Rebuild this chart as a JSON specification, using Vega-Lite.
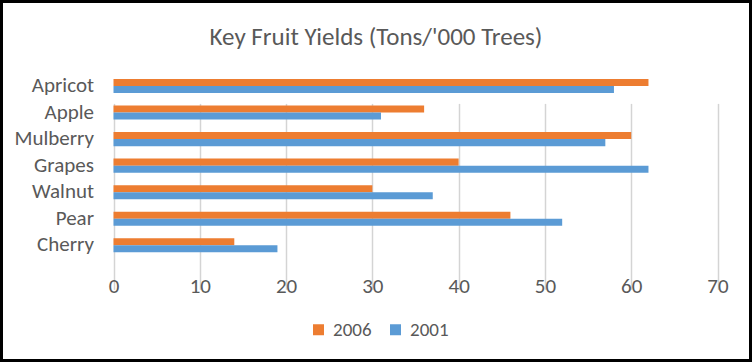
{
  "$schema": "https://vega.github.io/schema/vega-lite/v6.json",
  "width": 752,
  "height": 362,
  "autosize": {"type": "none"},
  "padding": 0,
  "background": "white",
  "title": {
    "text": "Key Fruit Yields (Tons/'000 Trees)",
    "fontSize": 25,
    "font": "Carlito, Lato",
    "fontWeight": "normal",
    "color": "#595959",
    "anchor": "middle",
    "frame": "group",
    "offset": -50
  },
  "data": {
    "values": [
      {"fruit": "Apricot", "year": "2006", "tons": 62},
      {"fruit": "Apricot", "year": "2001", "tons": 58},
      {"fruit": "Apple", "year": "2006", "tons": 36},
      {"fruit": "Apple", "year": "2001", "tons": 31},
      {"fruit": "Mulberry", "year": "2006", "tons": 60},
      {"fruit": "Mulberry", "year": "2001", "tons": 57},
      {"fruit": "Grapes", "year": "2006", "tons": 40},
      {"fruit": "Grapes", "year": "2001", "tons": 62},
      {"fruit": "Walnut", "year": "2006", "tons": 30},
      {"fruit": "Walnut", "year": "2001", "tons": 37},
      {"fruit": "Pear", "year": "2006", "tons": 46},
      {"fruit": "Pear", "year": "2001", "tons": 52},
      {"fruit": "Cherry", "year": "2006", "tons": 14},
      {"fruit": "Cherry", "year": "2001", "tons": 19}
    ]
  },
  "mark": {"type": "bar"},
  "encoding": {
    "y": {
      "field": "fruit",
      "type": "nominal",
      "sort": ["Apricot", "Apple", "Mulberry", "Grapes", "Walnut", "Pear", "Cherry"],
      "scale": {"range": [72.7, 258.6], "paddingInner": 0.47, "paddingOuter": 0.235},
      "axis": {
        "title": null,
        "offset": -113.5,
        "domain": false,
        "ticks": false,
        "grid": false,
        "labelPadding": 20,
        "labelFont": "Carlito, Lato",
        "labelFontSize": 21,
        "labelColor": "#595959"
      }
    },
    "yOffset": {"field": "year", "type": "nominal", "sort": ["2006", "2001"]},
    "x": {
      "field": "tons",
      "type": "quantitative",
      "scale": {"domain": [0, 70], "range": [113.5, 717.5], "nice": false},
      "axis": {
        "title": null,
        "offset": -103.4,
        "values": [0, 10, 20, 30, 40, 50, 60, 70],
        "domain": false,
        "ticks": false,
        "grid": true,
        "gridColor": "#D4D4D4",
        "gridWidth": 1.5,
        "labelFlush": false,
        "labelPadding": 17,
        "labelFont": "Carlito, Lato",
        "labelFontSize": 21,
        "labelColor": "#595959"
      }
    },
    "color": {
      "field": "year",
      "type": "nominal",
      "sort": ["2006", "2001"],
      "scale": {"domain": ["2006", "2001"], "range": ["#ED7D31", "#5B9BD5"]},
      "legend": {
        "title": null,
        "orient": "none",
        "direction": "horizontal",
        "legendX": 309,
        "legendY": 320,
        "symbolType": "square",
        "symbolSize": 121,
        "symbolStrokeWidth": 0,
        "labelFont": "Carlito, Lato",
        "labelFontSize": 19,
        "labelColor": "#595959",
        "labelOffset": 5,
        "columnPadding": 14
      }
    }
  },
  "config": {
    "view": {"stroke": "black", "strokeWidth": 6}
  }
}
